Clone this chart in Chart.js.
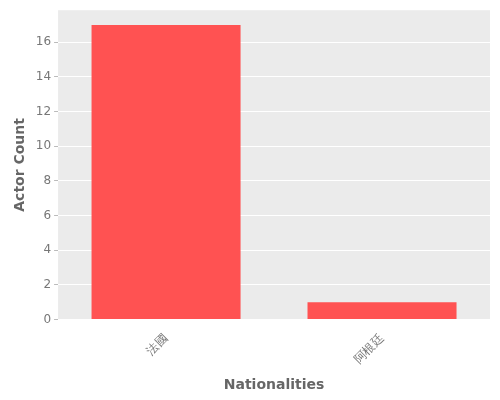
<!DOCTYPE html>
<html>
<head>
<meta charset="utf-8">
<script src="https://cdn.jsdelivr.net/npm/chart.js@4"></script>
<style>
  html, body { margin: 0; padding: 0; background: #fff; }
  #wrap { width: 500px; height: 400px; }
</style>
</head>
<body>
<div id="wrap"><canvas id="barChart"></canvas></div>
<script>
var categories = ['法國', '阿根廷'];
var actorCounts = [17, 1];
var yTicks = [0, 2, 4, 6, 8, 10, 12, 14, 16];

// gray panel behind the plot, ggplot style
var panelBg = {
  id: 'panelBg',
  beforeDraw: function (chart) {
    var a = chart.chartArea, ctx = chart.ctx;
    ctx.save();
    ctx.fillStyle = '#ebebeb';
    ctx.fillRect(a.left, a.top, a.right - a.left, a.bottom - a.top);
    ctx.restore();
  }
};

var fontFam = '"DejaVu Sans", sans-serif';

new Chart(document.getElementById('barChart').getContext('2d'), {
  type: 'bar',
  data: {
    labels: categories,
    datasets: [{
      data: actorCounts,
      backgroundColor: '#ff5252',
      barPercentage: 0.69,
      categoryPercentage: 1.0
    }]
  },
  options: {
    responsive: true,
    maintainAspectRatio: false,
    animation: false,
    layout: { padding: { top: 10, right: 10, left: 8, bottom: 2 } },
    plugins: { legend: { display: false }, tooltip: { enabled: false } },
    scales: {
      x: {
        grid: { display: false },
        border: { display: false },
        ticks: { color: '#777', maxRotation: 45, minRotation: 45, padding: 4, font: { family: fontFam, size: 12 } },
        title: { display: true, text: 'Nationalities', color: '#666', font: { family: fontFam, size: 14, weight: 'bold' }, padding: { top: 6 } }
      },
      y: {
        min: 0,
        max: 17.85,
        afterBuildTicks: function (axis) {
          axis.ticks = yTicks.map(function (v) { return { value: v }; });
        },
        grid: { color: '#ffffff', lineWidth: 1, tickColor: '#bbb', tickLength: 4 },
        border: { display: false },
        ticks: { color: '#777', font: { family: fontFam, size: 12 } },
        title: { display: true, text: 'Actor Count', color: '#666', font: { family: fontFam, size: 14, weight: 'bold' } }
      }
    }
  },
  plugins: [panelBg]
});
</script>
</body>
</html>
